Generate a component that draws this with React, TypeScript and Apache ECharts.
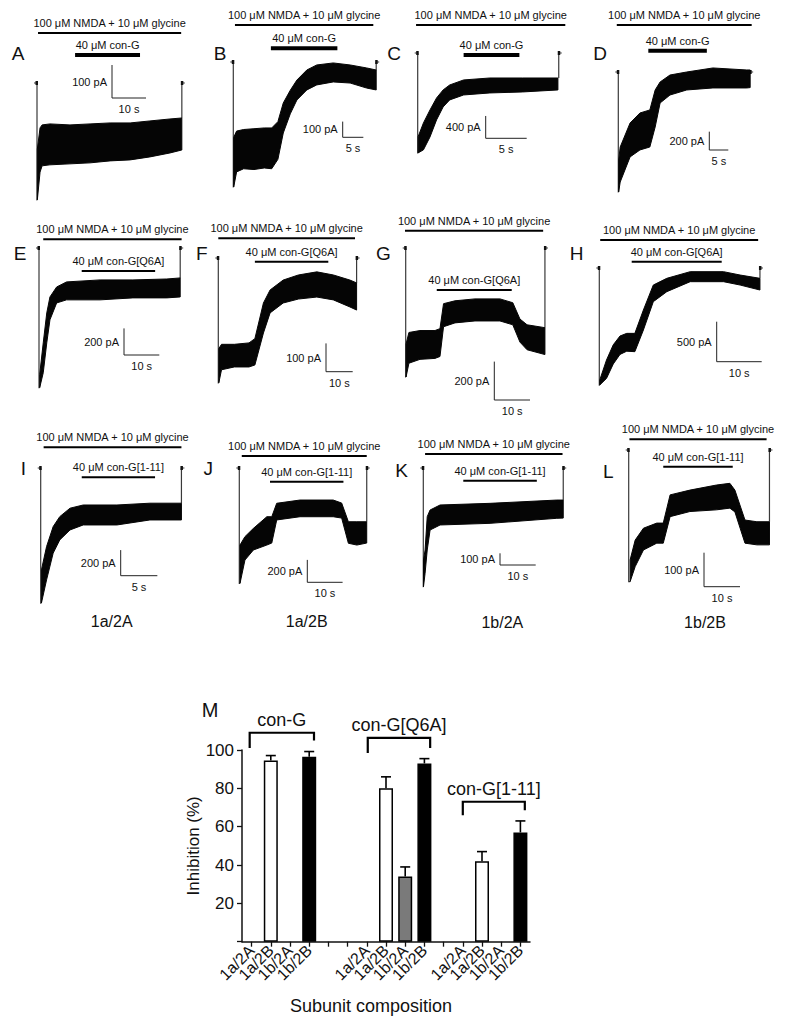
import React, { useEffect, useRef } from 'react';
import * as echarts from 'echarts';

const FONT = '"Liberation Sans", Arial, Helvetica, sans-serif';
const CW = 792;
const CH = 1028;

// ---------------- Trace panels (A–L) ----------------
const panelLetters = ['A', 'B', 'C', 'D', 'E', 'F', 'G', 'H', 'I', 'J', 'K', 'L'];
const agonistLabel = '100 μM NMDA + 10 μM glycine';
const toxinLabels = [
  '40 μM con-G', '40 μM con-G', '40 μM con-G', '40 μM con-G',
  '40 μM con-G[Q6A]', '40 μM con-G[Q6A]', '40 μM con-G[Q6A]', '40 μM con-G[Q6A]',
  '40 μM con-G[1-11]', '40 μM con-G[1-11]', '40 μM con-G[1-11]', '40 μM con-G[1-11]',
];
const rowSubunitLabels = ['1a/2A', '1a/2B', '1b/2A', '1b/2B'];

// recording duration (s), peak current (pA)
const recordingEnd = [42.6, 34.6, 17.2, 34.7, 40.0, 51.8, 39.0, 35.7, 19.2, 36.1, 39.2, 39.1];
const peakCurrent = [-354, -796, -1790, -1308, -1050, -441, -672, -1463, -1055, -1030, -1015, -387];
// application windows (s)
const agonistWindow = [
  [0.3, 42.4], [0.4, 33.9], [-0.2, 18.0], [-0.4, 35.1],
  [1.2, 40.4], [0, 51.2], [-0.2, 38.5], [0.2, 35.3],
  [0.4, 19.2], [0.7, 36.1], [0.5, 39.0], [0.2, 38.3],
];
const toxinWindow = [
  [11.2, 30.3], [9.1, 25.2], [5.6, 12.4], [7.9, 23.3],
  [12.1, 32.9], [13.7, 41.2], [8.7, 29.7], [7.2, 27.2],
  [5.6, 15.6], [8.7, 29.5], [11.2, 31.8], [9.6, 28.9],
];
// scale bars
const scaleCurrent = [100, 100, 400, 200, 200, 100, 200, 500, 200, 200, 100, 100];
const scaleTime = [10, 5, 5, 5, 10, 10, 10, 10, 5, 10, 10, 10];

// current envelopes: [time (s), upper edge (pA), lower edge (pA)]
const traceA = [
  [0.1, -200, -354], [0.9, -136, -270], [1.5, -127, -251], [3.8, -124, -248],
  [9.7, -127, -245], [15.6, -124, -242], [21.5, -121, -236], [27.4, -121, -233],
  [33.2, -115, -224], [39.1, -109, -212], [42.6, -106, -203],
];
const traceB = [
  [0.1, -480, -796], [0.8, -440, -700], [2.5, -430, -680], [5.0, -425, -685],
  [7.5, -420, -675], [9.3, -420, -680], [10.8, -380, -620], [12.1, -261, -452],
  [13.8, -180, -330], [15.4, -115, -242], [17.8, -51, -178], [20.2, -19, -146],
  [24.2, -6, -127], [28.3, -19, -134], [32.3, -38, -166], [34.6, -51, -178],
];
const traceC = [
  [0.05, -1500, -1790], [0.7, -1253, -1736], [1.5, -1020, -1504], [2.3, -806, -1199],
  [3.1, -662, -967], [3.9, -573, -841], [5.6, -483, -752], [8.8, -448, -716],
  [12.8, -448, -698], [17.1, -448, -662],
];
const traceD = [
  [0.1, -960, -1308], [0.5, -818, -1200], [3.1, -556, -926], [5.7, -447, -850],
  [8.3, -414, -818], [9.7, -196, -600], [11.0, -109, -338], [13.6, -33, -251],
  [18.0, 0, -196], [24.9, 44, -174], [33.8, 22, -174], [34.7, 22, -170],
];
const traceE = [
  [0.2, -950, -1050], [1.2, -713, -938], [2.2, -488, -713], [3.1, -368, -540],
  [5.0, -293, -413], [7.8, -255, -390], [17.3, -240, -390], [26.6, -240, -375],
  [36.2, -233, -375], [40.0, -225, -368],
];
const traceF = [
  [0.2, -320, -441], [1.2, -305, -395], [6.0, -305, -385], [11.5, -300, -385],
  [13.7, -285, -378], [16.9, -159, -265], [19.4, -113, -194], [24.3, -78, -159],
  [30.0, -60, -145], [36.9, -49, -138], [43.1, -60, -148], [49.3, -78, -173],
  [51.8, -88, -184],
];
const traceG = [
  [0.1, -500, -672], [0.9, -440, -600], [4.0, -430, -580], [8.2, -430, -575],
  [9.6, -420, -565], [10.6, -290, -410], [13.8, -275, -390], [19.4, -265, -380],
  [26.4, -265, -380], [30.0, -285, -400], [32.0, -370, -490], [34.0, -400, -530],
  [39.0, -415, -555],
];
const traceH = [
  [0.1, -1400, -1463], [1.6, -1150, -1380], [3.1, -960, -1200], [4.6, -850, -1080],
  [6.1, -817, -1040], [7.9, -817, -1046], [9.8, -525, -775], [12.0, -213, -421],
  [15.0, -129, -296], [20.2, -46, -171], [27.6, -46, -171], [31.3, -88, -213],
  [35.7, -129, -275],
];
const traceI = [
  [0.1, -796, -1055], [0.8, -614, -874], [1.7, -458, -665], [2.6, -380, -562],
  [4.0, -314, -484], [5.8, -289, -445], [10.4, -289, -445], [14.9, -275, -406],
  [19.2, -275, -406],
];
const traceJ = [
  [0.2, -688, -1030], [1.6, -613, -822], [4.0, -539, -732], [7.8, -435, -688],
  [9.2, -435, -670], [10.6, -315, -464], [17.2, -286, -435], [26.6, -286, -435],
  [29.0, -313, -447], [30.9, -480, -672], [33.3, -480, -688], [36.1, -480, -670],
];
const traceK = [
  [0.05, -787, -1015], [0.5, -701, -900], [1.1, -416, -701], [1.9, -359, -530],
  [4.7, -316, -487], [18.7, -302, -473], [37.4, -274, -430], [39.2, -274, -428],
];
const traceL = [
  [0.4, -323, -387], [1.8, -265, -343], [4.1, -230, -294], [7.8, -215, -274],
  [9.6, -215, -274], [11.5, -132, -196], [17.0, -118, -181], [24.4, -103, -176],
  [28.1, -98, -171], [29.5, -118, -182], [32.3, -206, -274], [35.6, -211, -279],
  [39.1, -211, -279],
];
const traces = [traceA, traceB, traceC, traceD, traceE, traceF, traceG, traceH, traceI, traceJ, traceK, traceL];

// layout (pixels): x of t=0, y of 0 pA, px per s, px per pA, letter x, letter y,
// agonist bar y, toxin bar y, scale-bar corner x, y
const panelLayout = [
  [37, 83, 3.4, 0.33, 18, 53, 33, 55, 112, 98],
  [233.3, 62, 4.13, 0.157, 220, 53, 25, 48.3, 342.7, 137.3],
  [417.7, 53, 8.2, 0.0558, 394, 53, 25, 55, 485.7, 138.3],
  [618.3, 72, 3.8, 0.0917, 600, 53, 25, 50.7, 709.3, 150],
  [39, 248, 3.53, 0.133, 20, 253, 239.3, 271, 124, 355],
  [218.3, 258, 2.67, 0.283, 201.7, 253, 238.3, 261.7, 326, 371.7],
  [405.7, 248, 3.57, 0.192, 383.3, 253, 230.7, 290, 494.3, 400],
  [599.3, 268, 4.5, 0.08, 576.7, 253.3, 240, 261.7, 716.7, 361.7],
  [40.7, 468, 7.33, 0.128, 23.3, 468.3, 447.3, 477.3, 120.7, 575.7],
  [239.3, 468, 3.53, 0.112, 208.3, 468.3, 456, 481.7, 307.3, 582.3],
  [423.3, 468, 3.57, 0.117, 401.7, 470, 454, 480.7, 500, 565],
  [628.7, 450, 3.6, 0.34, 608.3, 471, 439.3, 466.7, 704, 586.7],
];
const rowLabelPos = [[111.7, 621.7], [306.7, 621.7], [502.3, 622.3], [705, 622.3]];

// ---------------- Bar chart (M) ----------------
const groupNames = ['con-G', 'con-G[Q6A]', 'con-G[1-11]'];
const subunits = ['1a/2A', '1a/2B', '1b/2A', '1b/2B'];
const inhibitionMean = [
  [null, 94.5, null, 96.5],
  [null, 80, 34, 93],
  [null, 42, null, 57],
];
const inhibitionErr = [
  [null, 2.6, null, 2.7],
  [null, 6, 5, 2.5],
  [null, 5, null, 6],
];
const subunitColors = ['#ffffff', '#ffffff', '#7a7a7a', '#000000'];
const spacersAfterGroup = [2, 1, 0];
const yTicks = [0, 20, 40, 60, 80, 100];
// brackets: level, left leg end, right leg end (in % units) and index offsets
const bracketLevel = [109, 106.3, 73];
const bracketLegs = [[101, 105], [98.5, 101], [66, 68.6]];
const bracketOffset = [[-0.1, 0.25], [0.05, 0.3], [0, 0.23]];

function txt(x: number, y: number, s: string, size: number, align: string) {
  return {
    type: 'text',
    x,
    y,
    style: {
      text: s,
      fill: '#111',
      font: `${size}px ${FONT}`,
      textAlign: align,
      align,
      textVerticalAlign: 'middle',
      verticalAlign: 'middle',
    },
  };
}
function seg(pts: number[][], color: string, w: number) {
  return { type: 'polyline', shape: { points: pts }, style: { stroke: color, lineWidth: w, fill: null } };
}

function makePanelRenderer(i: number) {
  return (_params: any, api: any) => {
    const L = panelLayout[i];
    const agY = L[6], txY = L[7], sx = L[8], sy = L[9];
    const tr = traces[i];
    const kids: any[] = [];
    // agonist bar
    const a1 = api.coord([agonistWindow[i][0], 0])[0];
    const a2 = api.coord([agonistWindow[i][1], 0])[0];
    kids.push(seg([[a1, agY], [a2, agY]], '#000', 2));
    kids.push(txt((a1 + a2) / 2, agY - 10, agonistLabel, 11, 'center'));
    // toxin bar
    const t1 = api.coord([toxinWindow[i][0], 0])[0];
    const t2 = api.coord([toxinWindow[i][1], 0])[0];
    kids.push(seg([[t1, txY], [t2, txY]], '#000', i < 4 ? 4 : 2));
    kids.push(txt((t1 + t2) / 2, txY - 10, toxinLabels[i], 11, 'center'));
    // onset and offset thin lines
    const b0 = api.coord([0, 0]);
    const pk = api.coord([0, peakCurrent[i]]);
    const f = api.coord([tr[0][0], tr[0][2]]);
    kids.push(seg([[b0[0] - 3, b0[1]], b0, pk, f], '#3a3a3a', 1.2));
    const last = tr[tr.length - 1];
    const e0 = api.coord([recordingEnd[i], last[1]]);
    const e1 = api.coord([recordingEnd[i], 0]);
    kids.push(seg([e0, e1, [e1[0] + 3, e1[1]]], '#3a3a3a', 1.2));
    kids.push({ type: 'rect', shape: { x: b0[0] - 1.5, y: b0[1] - 2, width: 2.5, height: 4 }, style: { fill: '#111' } });
    kids.push({ type: 'rect', shape: { x: e1[0] - 1, y: e1[1] - 2, width: 2.5, height: 4 }, style: { fill: '#111' } });
    // current band
    const upper = tr.map((d) => api.coord([d[0], d[1]]));
    const lower = tr.map((d) => api.coord([d[0], d[2]])).reverse();
    kids.push({
      type: 'polygon',
      shape: { points: upper.concat(lower) },
      style: { fill: '#050505', stroke: '#050505', lineWidth: 1 },
    });
    // scale bar
    const hl = api.size([scaleTime[i], 0])[0];
    const vl = api.size([0, scaleCurrent[i]])[1];
    kids.push(seg([[sx, sy - vl], [sx, sy], [sx + hl, sy]], '#222', 1));
    kids.push(txt(sx - 5, sy - vl / 2, `${scaleCurrent[i]} pA`, 11, 'right'));
    kids.push(txt(sx + hl / 2, sy + 11, `${scaleTime[i]} s`, 11, 'center'));
    return { type: 'group', children: kids };
  };
}

function buildOption() {
  const grid: any[] = [];
  const xAxis: any[] = [];
  const yAxis: any[] = [];
  const series: any[] = [];

  panelLayout.forEach((L, i) => {
    const [x0, y0, pxs, pxa] = L;
    grid.push({ left: 0, top: 0, width: CW, height: CH, outerBoundsMode: 'none', containLabel: false });
    xAxis.push({ type: 'value', gridIndex: i, show: false, min: -x0 / pxs, max: (CW - x0) / pxs, splitLine: { show: false } });
    yAxis.push({ type: 'value', gridIndex: i, show: false, min: (y0 - CH) / pxa, max: y0 / pxa, splitLine: { show: false } });
    series.push({
      type: 'custom',
      xAxisIndex: i,
      yAxisIndex: i,
      data: [[0, 0]],
      silent: true,
      clip: false,
      renderItem: makePanelRenderer(i),
    });
  });

  // --- bar chart M ---
  const cats: any[] = [];
  groupNames.forEach((g, gi) => {
    subunits.forEach((s, si) => {
      cats.push({ id: `${g}|${s}`, label: s, value: inhibitionMean[gi][si], err: inhibitionErr[gi][si], color: subunitColors[si] });
    });
    for (let k = 0; k < spacersAfterGroup[gi]; k++) cats.push({ id: `${g}|gap${k}`, label: '', value: null, err: null, color: '#fff' });
  });
  const groupStart: number[] = [];
  {
    let idx = 0;
    groupNames.forEach((_g, gi) => {
      groupStart.push(idx);
      idx += subunits.length + spacersAfterGroup[gi];
    });
  }
  const mi = panelLayout.length;
  grid.push({ left: 242, top: 750, width: 288, height: 191.7, outerBoundsMode: 'none', containLabel: false });
  xAxis.push({
    type: 'category',
    gridIndex: mi,
    data: cats.map((c) => c.id),
    boundaryGap: true,
    axisLine: { show: true, lineStyle: { color: '#111', width: 1.5 } },
    axisTick: { show: true, alignWithLabel: true, length: 5, inside: false, lineStyle: { color: '#111', width: 1.3 }, interval: 0 },
    axisLabel: {
      interval: 0,
      rotate: 45,
      margin: 6,
      color: '#111',
      fontSize: 16,
      fontFamily: FONT,
      formatter: (v: string) => {
        const c = cats.find((q) => q.id === v);
        return c ? c.label : '';
      },
    },
    splitLine: { show: false },
  });
  yAxis.push({
    type: 'value',
    gridIndex: mi,
    min: yTicks[0],
    max: yTicks[yTicks.length - 1],
    interval: 20,
    axisLine: { show: true, lineStyle: { color: '#111', width: 1.5 } },
    axisTick: { show: true, length: 5, lineStyle: { color: '#111', width: 1.3 } },
    axisLabel: {
      color: '#111',
      fontSize: 17,
      fontFamily: FONT,
      margin: 8,
      formatter: (v: number) => (v === 0 ? '' : String(v)),
    },
    splitLine: { show: false },
    name: 'Inhibition (%)',
    nameLocation: 'middle',
    nameRotate: 90,
    nameGap: 17,
    nameTextStyle: { color: '#111', fontSize: 17, fontFamily: FONT },
  });
  series.push({
    type: 'bar',
    xAxisIndex: mi,
    yAxisIndex: mi,
    barWidth: 14,
    silent: true,
    data: cats.map((c) =>
      c.value == null ? '-' : { value: c.value, itemStyle: { color: c.color, borderColor: '#000', borderWidth: 1.5 } }
    ),
  });
  const errData: any[] = [];
  cats.forEach((c, idx) => {
    if (c.value != null) errData.push([idx, c.value, c.err]);
  });
  series.push({
    type: 'custom',
    xAxisIndex: mi,
    yAxisIndex: mi,
    silent: true,
    clip: false,
    z: 5,
    data: errData,
    renderItem: (params: any, api: any) => {
      const d = errData[params.dataIndex];
      const base = api.coord([d[0], d[1]]);
      const top = api.coord([d[0], d[1] + d[2]]);
      return {
        type: 'group',
        children: [
          seg([base, top], '#000', 1.6),
          seg([[top[0] - 5, top[1]], [top[0] + 5, top[1]]], '#000', 1.6),
        ],
      };
    },
  });
  series.push({
    type: 'custom',
    xAxisIndex: mi,
    yAxisIndex: mi,
    silent: true,
    clip: false,
    z: 5,
    data: groupNames.map((_g, gi) => [groupStart[gi], bracketLevel[gi]]),
    renderItem: (params: any, api: any) => {
      const gi = params.dataIndex;
      const bw = api.size([1, 0])[0];
      const i0 = groupStart[gi];
      const i1 = groupStart[gi] + subunits.length - 1;
      const xl = api.coord([i0, 0])[0] + bracketOffset[gi][0] * bw;
      const xr = api.coord([i1, 0])[0] + bracketOffset[gi][1] * bw;
      const yl = api.coord([i0, bracketLevel[gi]])[1];
      const yLegL = api.coord([i0, bracketLegs[gi][0]])[1];
      const yLegR = api.coord([i0, bracketLegs[gi][1]])[1];
      return {
        type: 'group',
        children: [
          seg([[xl, yLegL], [xl, yl], [xr, yl], [xr, yLegR]], '#000', 2.2),
          txt((xl + xr) / 2, yl - 13, groupNames[gi], 18, 'center'),
        ],
      };
    },
  });

  const graphic: any[] = [];
  panelLetters.forEach((l, i) => {
    graphic.push(txt(panelLayout[i][4], panelLayout[i][5], l, 19, 'center'));
  });
  rowSubunitLabels.forEach((s, i) => {
    graphic.push(txt(rowLabelPos[i][0], rowLabelPos[i][1], s, 16, 'center'));
  });
  graphic.push(txt(210, 710, 'M', 20, 'center'));
  graphic.push(txt(371, 1006, 'Subunit composition', 18, 'center'));

  return {
    animation: false,
    backgroundColor: '#ffffff',
    textStyle: { fontFamily: FONT },
    grid,
    xAxis,
    yAxis,
    series,
    graphic,
  };
}

export default function App() {
  const ref = useRef<HTMLDivElement>(null);
  useEffect(() => {
    document.body.style.margin = '0';
    if (!ref.current) return;
    const chart = echarts.init(ref.current, null, { renderer: 'svg' });
    chart.setOption(buildOption() as any);
    return () => {
      chart.dispose();
    };
  }, []);
  return <div ref={ref} style={{ width: CW, height: CH }} />;
}
